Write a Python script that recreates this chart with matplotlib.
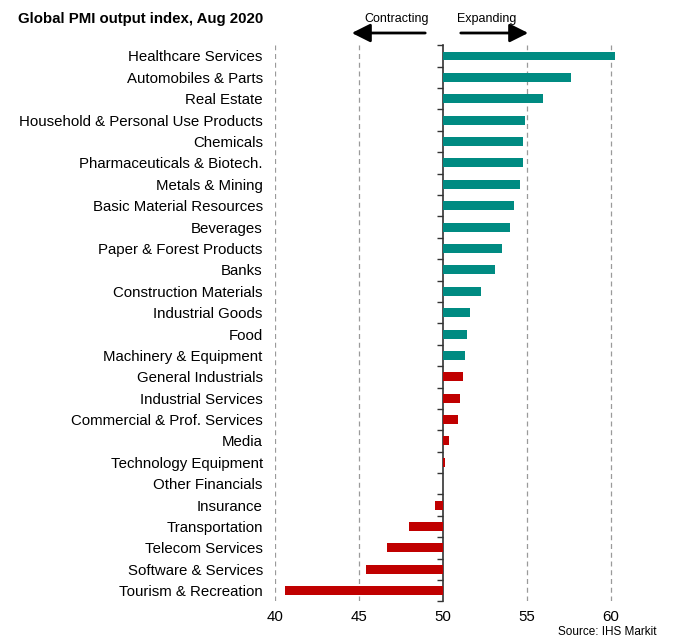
import numpy as np
import matplotlib
matplotlib.use("Agg")
import matplotlib.pyplot as plt

plt.rcParams['font.family'] = ['Liberation Sans', 'DejaVu Sans']

categories = [
    "Healthcare Services", "Automobiles & Parts", "Real Estate",
    "Household & Personal Use Products", "Chemicals", "Pharmaceuticals & Biotech.",
    "Metals & Mining", "Basic Material Resources", "Beverages",
    "Paper & Forest Products", "Banks", "Construction Materials",
    "Industrial Goods", "Food", "Machinery & Equipment",
    "General Industrials", "Industrial Services", "Commercial & Prof. Services",
    "Media", "Technology Equipment", "Other Financials", "Insurance",
    "Transportation", "Telecom Services", "Software & Services", "Tourism & Recreation",
]
values = [60.24, 57.65, 55.96, 54.87, 54.79, 54.79, 54.6, 54.25, 53.98, 53.54,
          53.1, 52.29, 51.59, 51.43, 51.33, 51.21, 50.99, 50.9, 50.34, 50.12,
          50.0, 49.52, 47.97, 46.66, 45.41, 40.56]
group = ["up", "up", "up", "up", "up", "up", "up", "up", "up", "up",
         "up", "up", "up", "up", "up", "down", "down", "down", "down", "down",
         "down", "down", "down", "down", "down", "down"]
xticks = [40, 45, 50, 55, 60]

colors = {"up": "#008B82", "down": "#C00000"}
baseline = 50
xmin, xmax = 40, 63

fig = plt.figure(figsize=(6.74, 6.39), dpi=100)
ax = fig.add_axes([275.3 / 674, (639 - 601.4) / 639, (661 - 275.3) / 674, (601.4 - 45.3) / 639])

y = np.arange(len(categories))
vals = np.array(values)
ax.barh(y, vals - baseline, left=baseline, height=0.42,
        color=[colors[g] for g in group], zorder=3)

ax.set_xlim(xmin, xmax)
ax.set_ylim(len(categories) - 0.5, -0.5)
ax.set_yticks(y)
ax.set_yticklabels(categories, fontsize=10.8, color='black')
ax.tick_params(axis='y', length=0, pad=9)
ax.set_xticks(xticks)
ax.set_xticklabels([str(t) for t in xticks], fontsize=10.8)
ax.tick_params(axis='x', length=0, pad=6)

for t in xticks:
    if t != baseline:
        ax.axvline(t, color='#9A9A9A', linestyle=(0, (4, 3)), linewidth=0.9, zorder=1)

for s in ax.spines.values():
    s.set_visible(False)

sec = ax.secondary_yaxis((baseline - xmin) / (xmax - xmin))
sec.set_yticks(np.arange(-0.5, len(categories), 1.0))
sec.set_yticklabels([])
sec.tick_params(length=4.5, width=1.0, color='#333333')
sec.spines['left'].set_color('#333333')
sec.spines['left'].set_linewidth(1.2)

fig.text(18 / 674, 1 - 19 / 639, "Global PMI output index, Aug 2020",
         fontsize=10.8, fontweight='bold', ha='left', va='center')
fig.text(397 / 674, 1 - 19 / 639, "Contracting", fontsize=9, ha='center', va='center')
fig.text(487 / 674, 1 - 19 / 639, "Expanding", fontsize=9, ha='center', va='center')

arrowprops = dict(arrowstyle='-|>,head_length=0.8,head_width=0.4', color='black', lw=2.0,
                  shrinkA=0, shrinkB=0)
ay = 1 - 33 / 639
fig.add_artist(matplotlib.patches.FancyArrowPatch((428 / 674, ay), (349 / 674, ay),
               transform=fig.transFigure, mutation_scale=14,
               arrowstyle='-|>,head_length=0.8,head_width=0.4', color='black', lw=2.0))
fig.add_artist(matplotlib.patches.FancyArrowPatch((458 / 674, ay), (531 / 674, ay),
               transform=fig.transFigure, mutation_scale=14,
               arrowstyle='-|>,head_length=0.8,head_width=0.4', color='black', lw=2.0))

fig.text(657 / 674, 1 - 632 / 639, "Source: IHS Markit", fontsize=8.5, ha='right', va='center')

fig.savefig("out.png", dpi=100)
